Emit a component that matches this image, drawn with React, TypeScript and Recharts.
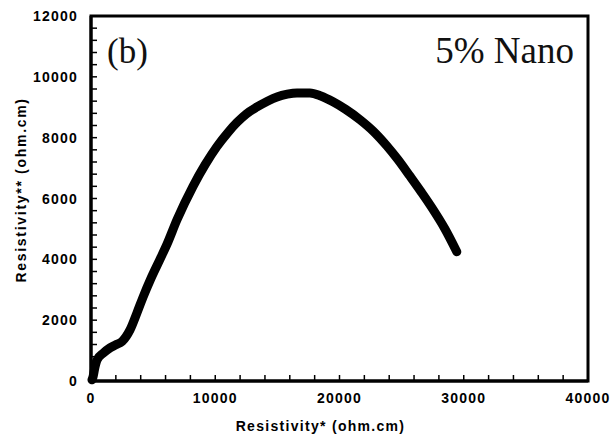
import { LineChart, Line, XAxis, YAxis, ReferenceArea } from 'recharts'

// curve (ohm.cm)
const resistivityReal = [
  80, 160, 300, 480, 1000, 1530, 2000, 2500, 3140, 3700, 4190, 4800, 5550, 6120, 6920, 8210,
  9200, 10140, 11000, 11750, 12500, 13360, 14200, 14970, 15800, 16580, 17620, 18500, 19480,
  20500, 21650, 22700, 23810, 24700, 25660, 26600, 27510, 28500, 29440,
]
const resistivityImag = [
  40, 130, 420, 690, 920, 1090, 1190, 1300, 1680, 2240, 2760, 3350, 4000, 4500, 5300, 6400,
  7120, 7710, 8160, 8500, 8780, 9010, 9200, 9340, 9430, 9470, 9470, 9370, 9180,
  8930, 8590, 8220, 7730, 7280, 6740, 6200, 5650, 4990, 4250,
]

const xTicks = [
  0, 2000, 4000, 6000, 8000, 10000, 12000, 14000, 16000, 18000, 20000, 22000, 24000, 26000,
  28000, 30000, 32000, 34000, 36000, 38000, 40000,
]
const yTicks = [
  0, 400, 800, 1200, 1600, 2000, 2400, 2800, 3200, 3600, 4000, 4400, 4800, 5200, 5600, 6000,
  6400, 6800, 7200, 7600, 8000, 8400, 8800, 9200, 9600, 10000, 10400, 10800, 11200, 11600, 12000,
]

const data = resistivityReal.map((x, i) => ({ x, y: resistivityImag[i] }))

const tickFont = { fontFamily: 'Liberation Sans, Arial, sans-serif', fontWeight: 700, fontSize: 14, letterSpacing: 1.2 }
const titleFont = { fontFamily: 'Liberation Sans, Arial, sans-serif', fontWeight: 700, fontSize: 14 }

function YTick({ x, y, payload }: any) {
  const v = payload.value
  return (
    <g>
      {v !== 0 && v !== 12000 && <line x1={x + 13} x2={x + 19} y1={y} y2={y} stroke="#000" strokeWidth={1.5} />}
      {v % 2000 === 0 && (
        <text x={x} y={y} dy={5} textAnchor="end" fill="#000" style={tickFont}>
          {v}
        </text>
      )}
    </g>
  )
}

function XTick({ x, y, payload }: any) {
  const v = payload.value
  return (
    <g>
      {v !== 0 && v !== 40000 && <line x1={x} x2={x} y1={y - 11} y2={y - 17} stroke="#000" strokeWidth={1.5} />}
      {v % 10000 === 0 && (
        <text x={x} y={y} dy={11} textAnchor="middle" fill="#000" style={tickFont}>
          {v}
        </text>
      )}
    </g>
  )
}

export default function App() {
  return (
    <div style={{ position: 'absolute', left: 0, top: 0, width: 612, height: 444, background: '#fff' }}>
      <LineChart width={612} height={444} data={data} margin={{ top: 16, right: 24, bottom: 23, left: 21 }}>
        <XAxis
          type="number"
          dataKey="x"
          domain={[0, 40000]}
          ticks={xTicks}
          interval={0}
          height={40}
          tickSize={0}
          tickMargin={11}
          tick={<XTick />}
          axisLine={{ stroke: '#000', strokeWidth: 3 }}
          label={{
            value: 'Resistivity* (ohm.cm)',
            position: 'insideBottom',
            offset: -10,
            dx: -19,
            style: { ...titleFont, letterSpacing: 1.3 },
            fill: '#000',
          }}
        />
        <YAxis
          type="number"
          domain={[0, 12000]}
          ticks={yTicks}
          interval={0}
          width={70}
          tickSize={0}
          tickMargin={13}
          tick={<YTick />}
          axisLine={{ stroke: '#000', strokeWidth: 3 }}
          label={{
            value: 'Resistivity** (ohm.cm)',
            angle: -90,
            position: 'insideLeft',
            offset: 0,
            dy: 84,
            style: { ...titleFont, letterSpacing: 1.7 },
            fill: '#000',
          }}
        />
        <ReferenceArea x1={0} x2={40000} y1={0} y2={12000} fill="none" stroke="#000" strokeWidth={3} />
        <Line
          type="monotone"
          dataKey="y"
          stroke="#000"
          strokeWidth={9}
          strokeLinecap="round"
          strokeLinejoin="round"
          dot={false}
          isAnimationActive={false}
        />
        <text x={107} y={63} fill="#111" style={{ fontFamily: 'Liberation Serif, Times New Roman, serif', fontSize: 35 }}>
          (b)
        </text>
        <text x={574} y={63} textAnchor="end" fill="#111" style={{ fontFamily: 'Liberation Serif, Times New Roman, serif', fontSize: 37 }}>
          5% Nano
        </text>
      </LineChart>
    </div>
  )
}
